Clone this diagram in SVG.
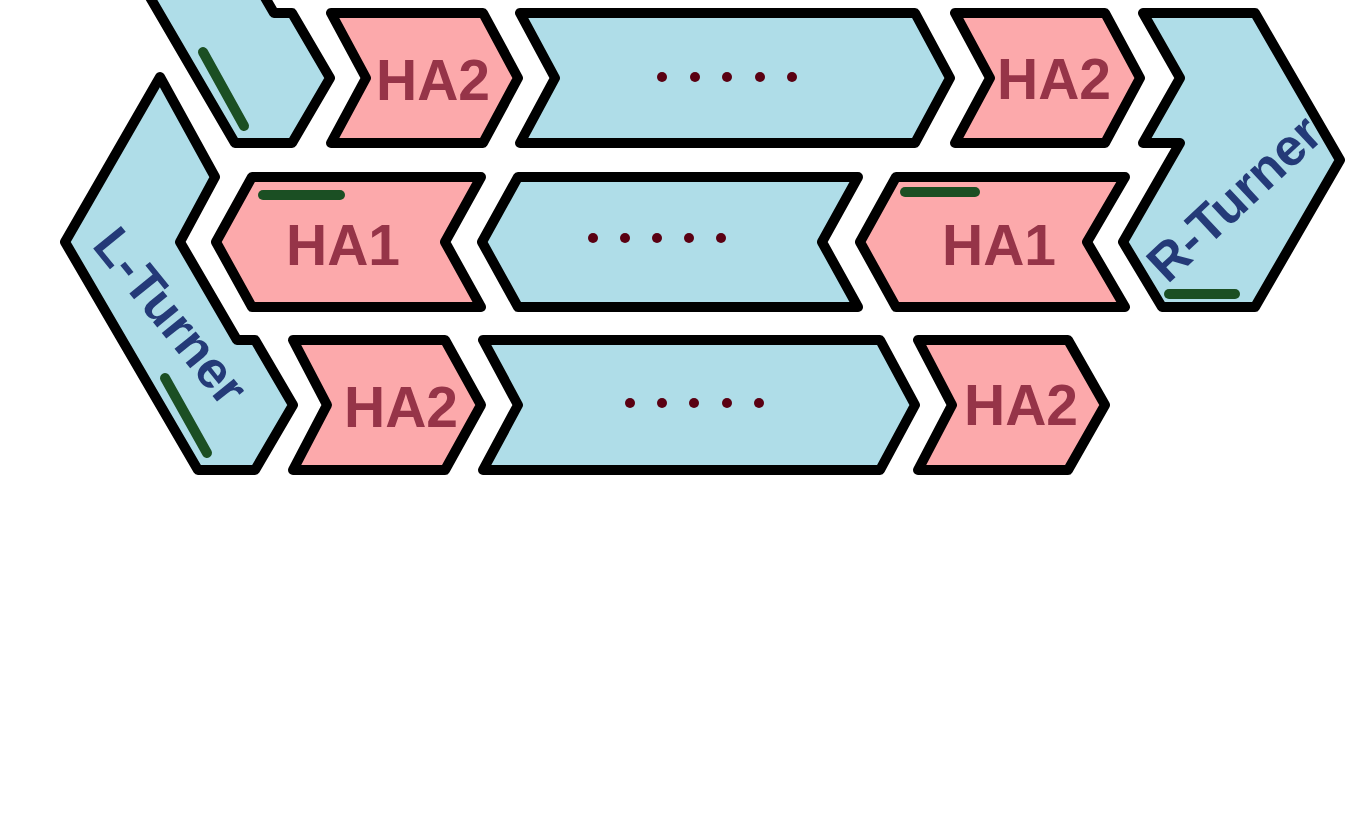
<svg xmlns="http://www.w3.org/2000/svg" width="1352" height="813" viewBox="0 0 1352 813">
<style>
.blue{fill:#afdde8;stroke:#000;stroke-width:10;stroke-linejoin:round}
.pink{fill:#fca9ab;stroke:#000;stroke-width:10;stroke-linejoin:round}
.lbl{font-family:"Liberation Sans",Arial,sans-serif;font-weight:bold;font-size:57px;fill:#963448;text-anchor:middle}
.turn{font-family:"Liberation Sans",Arial,sans-serif;font-weight:bold;font-size:52px;fill:#243a78;text-anchor:middle}
.bar{stroke:#1b4f23;stroke-width:10;stroke-linecap:round;fill:none}
.dot{fill:#5a0012}
</style>
<rect width="1352" height="813" fill="#fff"/>
<g id="topleft-turner">
<polygon class="blue" points="197,-250 252,-150 217,-85 274,13 292,13 330,78 292,143 235,143 102,-85"/>
<line class="bar" x1="203" y1="52" x2="244" y2="126"/>
</g>
<g id="l-turner">
<polygon class="blue" points="160,77 215,177 180,242 237,340 255,340 293,405 255,470 198,470 65,242"/>
<line class="bar" x1="165" y1="378" x2="207" y2="453"/>
<text class="turn" transform="translate(171,316) rotate(51)" y="18">L-Turner</text>
</g>
<g id="r-turner">
<polygon class="blue" points="1143,13 1255,13 1340,160 1255,307 1162,307 1123,242 1180,143 1143,143 1180,78"/>
<line class="bar" x1="1169" y1="294" x2="1235" y2="294"/>
<text class="turn" transform="translate(1234,198) rotate(-43)" y="18">R-Turner</text>
</g>
<g id="row1-ha2-left">
<polygon class="pink" points="331,13 483,13 518,78 483,143 331,143 366,78"/>
<text class="lbl" x="433" y="100">HA2</text>
</g>
<g id="row1-mid">
<polygon class="blue" points="520,13 915,13 950,78 915,143 520,143 555,78"/>
<circle class="dot" cx="662" cy="77" r="5"/><circle class="dot" cx="695" cy="77" r="5"/><circle class="dot" cx="727" cy="77" r="5"/><circle class="dot" cx="760" cy="77" r="5"/><circle class="dot" cx="792" cy="77" r="5"/>
</g>
<g id="row1-ha2-right">
<polygon class="pink" points="955,13 1105,13 1140,78 1105,143 955,143 990,78"/>
<text class="lbl" x="1054" y="99">HA2</text>
</g>
<g id="row2-ha1-left">
<polygon class="pink" points="252,177 481,177 445,242 481,307 252,307 216,242"/>
<line class="bar" x1="263" y1="195" x2="340" y2="195"/>
<text class="lbl" x="343" y="265">HA1</text>
</g>
<g id="row2-mid">
<polygon class="blue" points="518,177 858,177 822,242 858,307 518,307 482,242"/>
<circle class="dot" cx="593" cy="238" r="5"/><circle class="dot" cx="625" cy="238" r="5"/><circle class="dot" cx="657" cy="238" r="5"/><circle class="dot" cx="689" cy="238" r="5"/><circle class="dot" cx="721" cy="238" r="5"/>
</g>
<g id="row2-ha1-right">
<polygon class="pink" points="896,177 1125,177 1087,242 1125,307 896,307 860,242"/>
<line class="bar" x1="905" y1="192" x2="975" y2="192"/>
<text class="lbl" x="999" y="265">HA1</text>
</g>
<g id="row3-ha2-left">
<polygon class="pink" points="293,340 445,340 481,405 445,470 293,470 327,405"/>
<text class="lbl" x="401" y="427">HA2</text>
</g>
<g id="row3-mid">
<polygon class="blue" points="483,340 880,340 915,405 880,470 483,470 518,405"/>
<circle class="dot" cx="630" cy="403" r="5"/><circle class="dot" cx="662" cy="403" r="5"/><circle class="dot" cx="694" cy="403" r="5"/><circle class="dot" cx="727" cy="403" r="5"/><circle class="dot" cx="759" cy="403" r="5"/>
</g>
<g id="row3-ha2-right">
<polygon class="pink" points="918,340 1068,340 1105,405 1068,470 918,470 952,405"/>
<text class="lbl" x="1021" y="425">HA2</text>
</g>
<g id="connectors"></g>
</svg>
